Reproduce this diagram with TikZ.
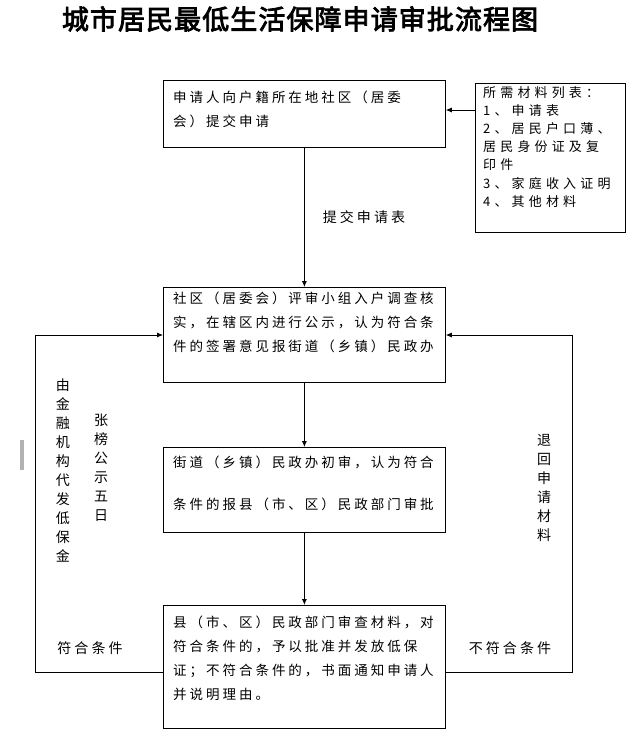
\documentclass[tikz,border=0pt]{standalone}
\usepackage{fontspec}
\setmainfont{Noto Sans CJK SC}[LetterSpace=22]
\newfontfamily\titlefont{Noto Sans CJK SC}[AutoFakeBold=3,LetterSpace=4]
\newfontfamily\matfont{Noto Sans CJK SC}[LetterSpace=32]
\XeTeXlinebreaklocale "zh"
\usetikzlibrary{arrows.meta}
\begin{document}
\begin{tikzpicture}[x=1pt,y=-1pt,
  box/.style={draw,line width=0.8pt},
  txt/.style={anchor=north west,inner sep=0pt,align=left,font=\fontsize{13.5}{24}\selectfont},
  arr/.style={-{Latex[length=6pt,width=5pt]},line width=0.8pt},
  lab/.style={font=\fontsize{14}{16}\selectfont,inner sep=0pt},
  vlab/.style={font=\fontsize{14}{19}\selectfont,inner sep=0pt,align=center,text width=16pt}]
\useasboundingbox (0,0) rectangle (641,745);
\node[inner sep=0pt,font=\titlefont\bfseries\fontsize{27}{30}\selectfont] (title) at (300,19) {城市居民最低生活保障申请审批流程图};
\node[box,minimum width=282pt,minimum height=67pt,anchor=north west,inner sep=0pt] (n1) at (163,80) {};
\node[box,minimum width=282pt,minimum height=95pt,anchor=north west,inner sep=0pt] (n2) at (163,287) {};
\node[box,minimum width=282pt,minimum height=85pt,anchor=north west,inner sep=0pt] (n3) at (163,447) {};
\node[box,minimum width=282pt,minimum height=123pt,anchor=north west,inner sep=0pt] (n4) at (163,605) {};
\node[box,minimum width=150pt,minimum height=149pt,anchor=north west,inner sep=0pt] (m) at (475,83) {};
\node[txt] (t1) at (173,91) {申请人向户籍所在地社区（居委\\会）提交申请};
\node[txt] (t2) at (173,292) {社区（居委会）评审小组入户调查核\\实，在辖区内进行公示，认为符合条\\件的签署意见报街道（乡镇）民政办};
\node[txt,font=\fontsize{13.5}{42}\selectfont] (t3) at (173,456) {街道（乡镇）民政办初审，认为符合\\条件的报县（市、区）民政部门审批};
\node[txt] (t4) at (173,616) {县（市、区）民政部门审查材料，对\\符合条件的，予以批准并发放低保\\证；不符合条件的，书面通知申请人\\并说明理由。};
\node[txt,font=\matfont\fontsize{13}{18.2}\selectfont] (tm) at (483,86) {所需材料列表：\\1、申请表\\2、居民户口薄、\\居民身份证及复\\印件\\3、家庭收入证明\\4、其他材料};
\draw[arr] (m.west|-0,110) -- (n1.east|-0,110);
\draw[arr] (n1.south) -- node[lab,right=18pt,pos=0.5] (l1) {提交申请表} (n2.north);
\draw[arr] (n2) -- (n3);
\draw[arr] (n3) -- (n4);
\coordinate (cl1) at (35,672); \coordinate (cl2) at (35,335);
\coordinate (cr1) at (572,672); \coordinate (cr2) at (572,335);
\draw[arr] (n4.west|-cl1) -- (cl1) -- (cl2) -- (n2.west|-cl2);
\draw[arr] (n4.east|-cr1) -- (cr1) -- (cr2) -- (n2.east|-cr2);
\node[lab] (l2) at (90,648) {符合条件};
\node[lab] (l3) at (510,648) {不符合条件};
\node[vlab] (v1) at (63,470) {由\\金\\融\\机\\构\\代\\发\\低\\保\\金};
\node[vlab] (v2) at (101,468) {张\\榜\\公\\示\\五\\日};
\node[vlab] (v3) at (544,488) {退\\回\\申\\请\\材\\料};
\fill[gray!60] (20,440) rectangle (24,470);
\end{tikzpicture}
\end{document}
